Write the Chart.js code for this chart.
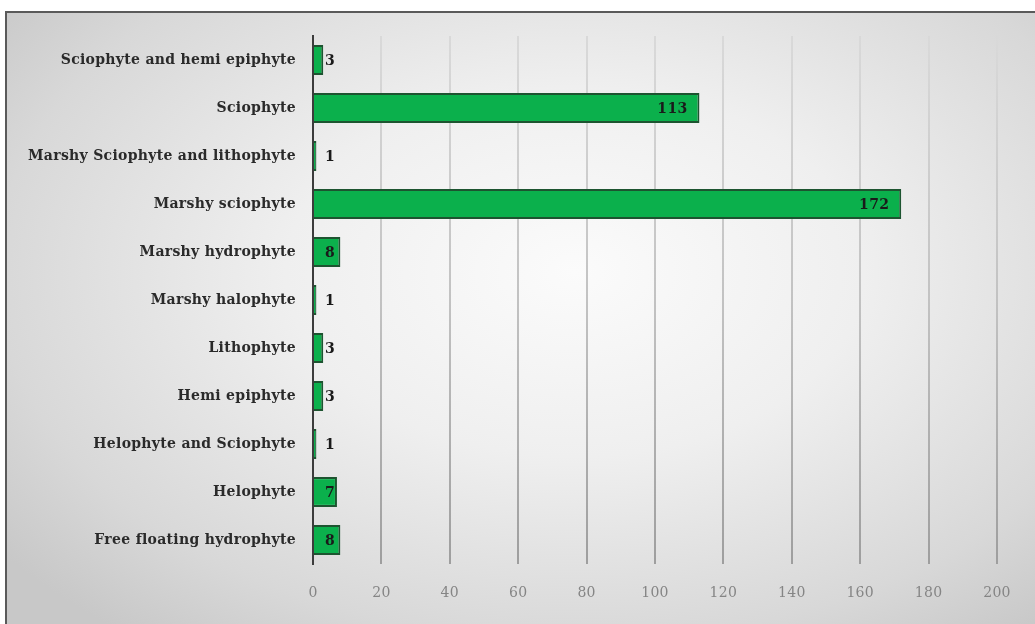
<!DOCTYPE html>
<html>
<head>
<meta charset="utf-8">
<script src="https://cdn.jsdelivr.net/npm/chart.js@4.4.0/dist/chart.umd.min.js"></script>
<style>
  html, body { margin: 0; padding: 0; background: #fff; }
  #wrap {
    position: absolute; left: 0; top: 0; width: 1035px; height: 624px;
  }
  #frame {
    position: absolute; left: 5px; top: 11px; width: 1036px; height: 620px;
    border: 2px solid #5a5a5a; box-sizing: border-box;
    background: radial-gradient(ellipse 70% 75% at 55% 42%, #fbfbfb 0%, #efefef 40%, #d8d8d8 80%, #c8c8c8 100%);
  }
  canvas { position: absolute; left: 0; top: 0; }
</style>
</head>
<body>
<div id="wrap">
  <div id="frame"></div>
  <canvas id="chart" width="1035" height="624"></canvas>
</div>
<script>
const categories = [
  'Sciophyte and hemi epiphyte',
  'Sciophyte',
  'Marshy Sciophyte and lithophyte',
  'Marshy sciophyte',
  'Marshy hydrophyte',
  'Marshy halophyte',
  'Lithophyte',
  'Hemi epiphyte',
  'Helophyte and Sciophyte',
  'Helophyte',
  'Free floating hydrophyte'
];
const counts = [3, 113, 1, 172, 8, 1, 3, 3, 1, 7, 8];
const xTicks = [0, 20, 40, 60, 80, 100, 120, 140, 160, 180, 200];

const canvas = document.getElementById('chart');
const c2d = canvas.getContext('2d');

// gridlines fade out towards the top, like the original
const gridGrad = c2d.createLinearGradient(0, 36, 0, 564);
gridGrad.addColorStop(0, '#d9d9d9');
gridGrad.addColorStop(0.5, '#c2c2c2');
gridGrad.addColorStop(1, '#9e9e9e');

// a little letter spacing for the loose serif look
const spacing = {
  id: 'spacing',
  beforeDraw(chart) { chart.ctx.letterSpacing = '0.3px'; }
};

// value labels: near the end of the bar, pushed right when the bar is too short
const valueLabels = {
  id: 'valueLabels',
  afterDatasetsDraw(chart) {
    const ctx = chart.ctx;
    const meta = chart.getDatasetMeta(0);
    const zeroX = chart.scales.x.getPixelForValue(0);
    ctx.save();
    ctx.font = 'bold 14px "DejaVu Serif"';
    ctx.fillStyle = '#1a1a1a';
    ctx.textAlign = 'right';
    ctx.textBaseline = 'middle';
    meta.data.forEach((bar, i) => {
      const x = Math.max(bar.x - 12, zeroX + 22);
      ctx.fillText(String(counts[i]), x, bar.y + 1);
    });
    ctx.restore();
  }
};

new Chart(canvas, {
  type: 'bar',
  data: {
    labels: categories,
    datasets: [{
      data: counts,
      backgroundColor: '#0bb04c',
      borderColor: '#1d5430',
      borderWidth: 2,
      barPercentage: 0.62,
      categoryPercentage: 1
    }]
  },
  options: {
    indexAxis: 'y',
    responsive: false,
    animation: false,
    layout: { padding: { top: 36, right: 38, left: 0, bottom: 0 } },
    plugins: {
      legend: { display: false },
      tooltip: { enabled: false }
    },
    scales: {
      x: {
        min: 0,
        max: 200,
        afterBuildTicks: (scale) => { scale.ticks = xTicks.map(v => ({ value: v })); },
        afterFit: (scale) => { scale.height = 60; },
        grid: { color: gridGrad, lineWidth: 2, drawTicks: false },
        border: { display: false },
        ticks: {
          color: '#858585',
          padding: 21,
          font: { family: 'DejaVu Serif', size: 14 }
        }
      },
      y: {
        afterFit: (scale) => { scale.width = 313; },
        grid: { display: false, drawTicks: false },
        border: { display: true, color: '#3c3c3c', width: 2 },
        ticks: {
          color: '#2a2a2a',
          padding: 17,
          font: { family: 'DejaVu Serif', size: 14, weight: 'bold' }
        }
      }
    }
  },
  plugins: [spacing, valueLabels]
});
</script>
</body>
</html>
